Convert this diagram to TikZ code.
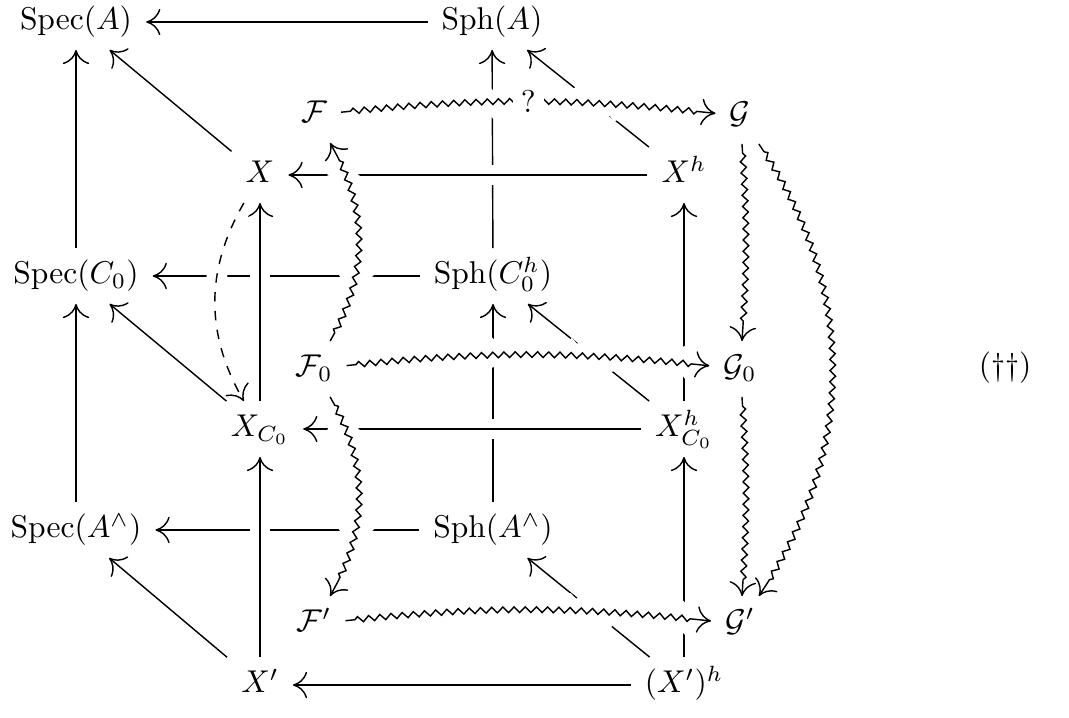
\documentclass[tikz,border=0pt]{standalone}
\usetikzlibrary{arrows.meta,decorations.pathmorphing}
\begin{document}
\begin{tikzpicture}[x=0.3175pt,y=0.3175pt,
  ob/.style={inner xsep=1ex, inner ysep=0.85ex, text height=7.5pt, text depth=2.5pt},
  ar/.style={-{Computer Modern Rightarrow[length=4.5pt,width=8.4pt]}, line width=0.45pt},
  over/.style={preaction={draw=white, line width=6.5pt, arrows=-}},
  squig/.style={decorate, decoration={zigzag, amplitude=0.9pt, segment length=1.25mm, pre length=3pt, post length=5pt}},
  lab/.style={fill=white, inner sep=2.5pt}
]
\useasboundingbox (0,0) rectangle (1069,-717);
% nodes
\node[ob] (SpecA) at (76,-22) {$\mathrm{Spec}(A)$};
\node[ob] (SphA) at (492,-22) {$\mathrm{Sph}(A)$};
\node[ob] (F) at (314,-115) {$\mathcal{F}$};
\node[ob] (G) at (740,-116) {$\mathcal{G}$};
\node[ob] (X) at (260,-175) {$X$};
\node[ob] (Xh) at (684,-175) {$X^h$};
\node[ob] (SpecC) at (76,-276) {$\mathrm{Spec}(C_0)$};
\node[ob] (SphC) at (493,-276) {$\mathrm{Sph}(C_0^h)$};
\node[ob] (F0) at (314,-369) {$\mathcal{F}_0$};
\node[ob] (G0) at (740,-369) {$\mathcal{G}_0$};
\node[ob] (XC) at (260,-429) {$X_{C_0}$};
\node[ob] (XhC) at (684,-429) {$X^h_{C_0}$};
\node[ob] (SpecAw) at (76,-530) {$\mathrm{Spec}(A^\wedge)$};
\node[ob] (SphAw) at (493,-530) {$\mathrm{Sph}(A^\wedge)$};
\node[ob] (Fp) at (314,-624) {$\mathcal{F}'$};
\node[ob] (Gp) at (740,-624) {$\mathcal{G}'$};
\node[ob] (Xp) at (260,-685) {$X'$};
\node[ob] (Xph) at (684,-685) {$(X')^h$};
\node (tag) at (1005,-368) {(\dag\dag)};
% back layer
\draw[ar] (SphA) -- (SpecA);
\draw[ar] (SpecC) -- (SpecA);
\draw[ar] (SpecAw) -- (SpecC);
\draw[ar] (X) -- (SpecA);
\draw[ar] (XC) -- (SpecC);
\draw[ar] (Xp) -- (SpecAw);
\draw[ar] (SphC) -- (SpecC);
\draw[ar] (SphAw) -- (SpecAw);
\draw[ar] (SphC) -- (SphA);
\draw[ar] (SphAw) -- (SphC);
\draw[ar] (Xh) -- (SphA);
\draw[ar] (XhC) -- (SphC);
\draw[ar] (Xph) -- (SphAw);
\draw[ar] (XhC) -- (Xh);
\draw[ar] (Xph) -- (XhC);
\draw[ar] (Xph) -- (Xp);
% middle layer
\draw[ar, over] (Xh) -- (X);
\draw[ar, over] (XhC) -- (XC);
\draw[ar, over] (XC) -- (X);
\draw[ar, over] (Xp) -- (XC);
\draw[ar, over, dashed] (X) to[bend right=30] (XC);
% squiggly layer
\draw[ar, over, squig] (F) to[bend left=6] node[lab] {$?$} (G);
\draw[ar, over, squig] (F0) to[bend left=6] (G0);
\draw[ar, over, squig] (Fp) to[bend left=6] (Gp);
\draw[ar, over, squig] (F0) to[bend right=30] (F);
\draw[ar, over, squig] (F0) to[bend left=30] (Fp);
\draw[ar, squig] (G) to[bend left=34] (Gp);
\draw[ar, squig] (G) to[bend left=4] (G0);
\draw[ar, squig] (G0) to[bend left=4] (Gp);
\end{tikzpicture}
\end{document}
